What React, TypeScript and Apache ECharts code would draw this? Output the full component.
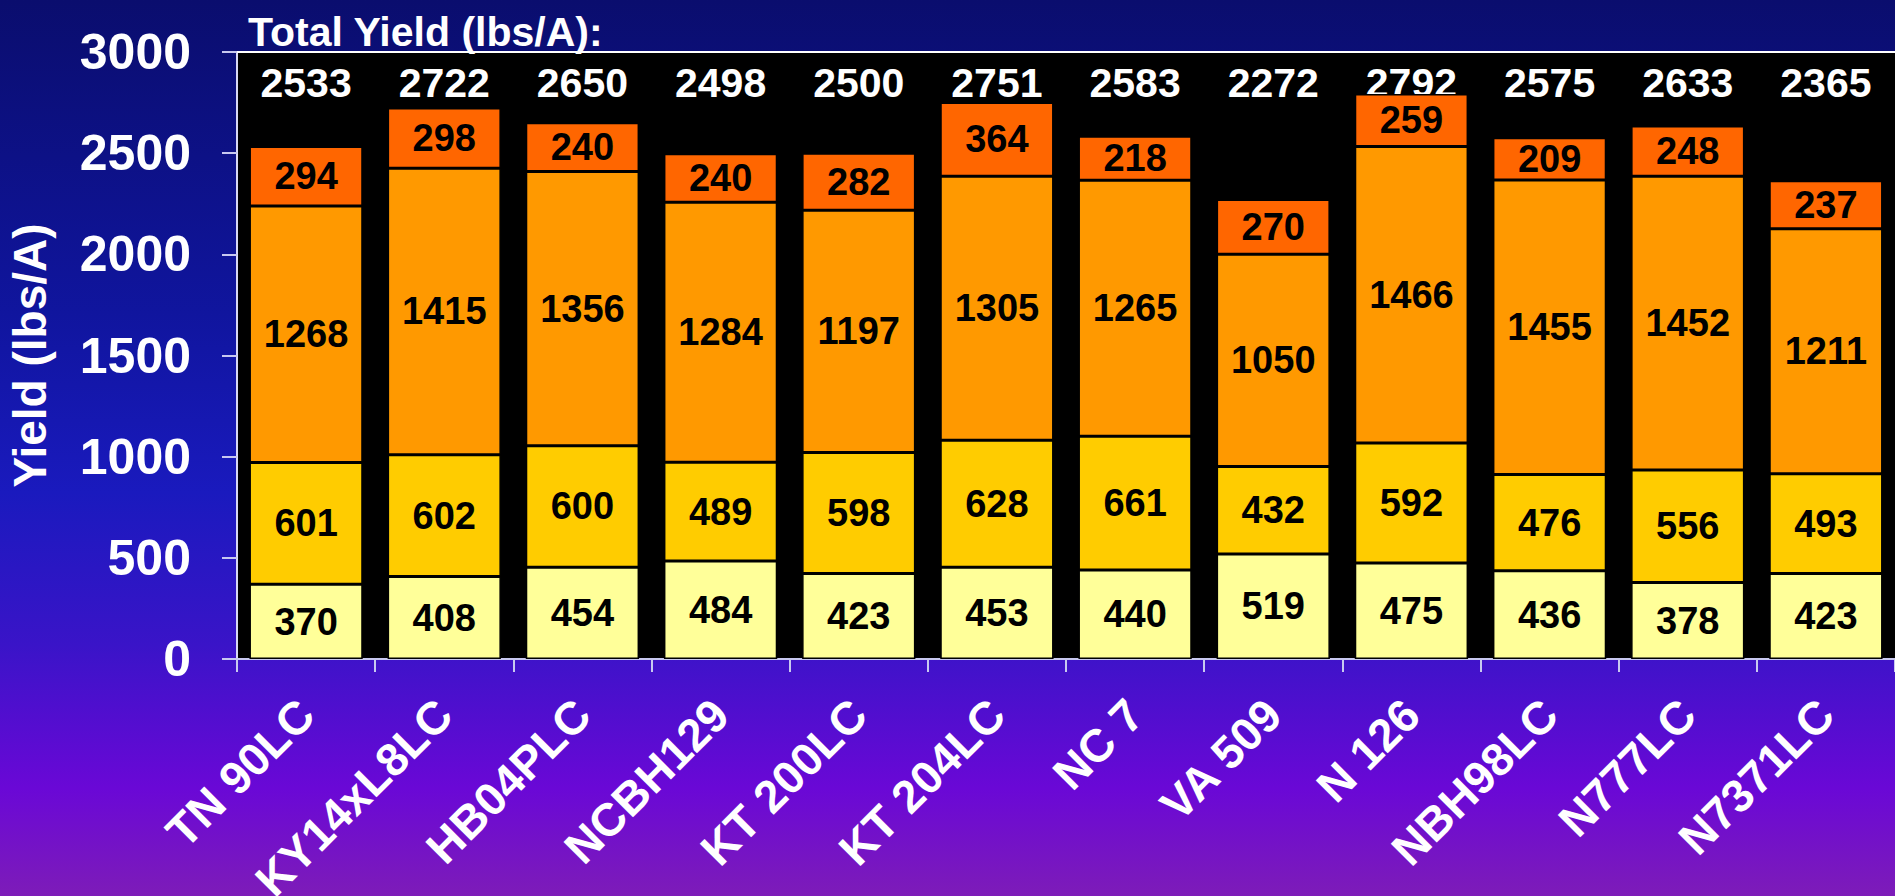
import React, { useEffect, useRef } from "react";
import * as echarts from "echarts";

const categories = ["TN 90LC", "KY14xL8LC", "HB04PLC", "NCBH129", "KT 200LC", "KT 204LC", "NC 7", "VA 509", "N 126", "NBH98LC", "N777LC", "N7371LC"];
const seg1 = [370, 408, 454, 484, 423, 453, 440, 519, 475, 436, 378, 423];
const seg2 = [601, 602, 600, 489, 598, 628, 661, 432, 592, 476, 556, 493];
const seg3 = [1268, 1415, 1356, 1284, 1197, 1305, 1265, 1050, 1466, 1455, 1452, 1211];
const seg4 = [294, 298, 240, 240, 282, 364, 218, 270, 259, 209, 248, 237];
const totals = [2533, 2722, 2650, 2498, 2500, 2751, 2583, 2272, 2792, 2575, 2633, 2365];
const segColors = ["#FFFF99", "#FFCC00", "#FF9900", "#FF6600"];

const FONT = "'Liberation Sans', Arial, sans-serif";

export default function App() {
  const ref = useRef<HTMLDivElement>(null);
  useEffect(() => {
    document.body.style.margin = "0";
    document.body.style.overflow = "hidden";
    const chart = echarts.init(ref.current!, null, { renderer: "svg" });
    const mk = (data: number[], i: number) => ({
      type: "bar",
      stack: "a",
      data,
      barCategoryGap: "18%",
      itemStyle: { color: segColors[i], borderColor: "#000", borderWidth: 1.5 },
      label: {
        show: true,
        position: "inside",
        color: "#000",
        fontSize: 38,
        fontWeight: "bold",
        fontFamily: FONT,
      },
    });
    chart.setOption({
      animation: false,
      backgroundColor: {
        type: "linear",
        x: 0, y: 0, x2: 0, y2: 1,
        colorStops: [
          { offset: 0, color: "#0a0d6e" },
          { offset: 0.35, color: "#10159e" },
          { offset: 0.55, color: "#1a1abe" },
          { offset: 0.72, color: "#3a14c8" },
          { offset: 0.88, color: "#6a08d6" },
          { offset: 1, color: "#7d1cb8" },
        ],
      },
      title: {
        text: "Total Yield (lbs/A):",
        left: 243,
        top: 6,
        textStyle: { color: "#fff", fontSize: 41, fontWeight: "bold", fontFamily: FONT },
      },
      grid: {
        left: 237,
        top: 52,
        right: 0,
        bottom: 237,
        show: true,
        backgroundColor: "#000",
        borderWidth: 0,
        containLabel: false,
        outerBoundsMode: "none",
      },
      xAxis: [
        {
          type: "category",
          data: categories,
          position: "bottom",
          axisLine: { lineStyle: { color: "#c8c8f0", width: 2 } },
          axisTick: { show: true, length: 13, lineStyle: { color: "#c8c8f0", width: 2 } },
          axisLabel: {
            rotate: 45,
            color: "#fff",
            fontSize: 46,
            fontWeight: "bold",
            fontFamily: FONT,
            margin: 48,
            interval: 0,
          },
        },
        {
          type: "category",
          data: totals.map(String),
          position: "top",
          axisLine: { show: true, lineStyle: { color: "#ffffff", width: 2 } },
          axisTick: { show: false },
          axisLabel: {
            inside: true,
            color: "#fff",
            fontSize: 41,
            fontWeight: "bold",
            fontFamily: FONT,
            margin: 10,
            interval: 0,
          },
        },
      ],
      yAxis: {
        type: "value",
        min: 0,
        max: 3000,
        interval: 500,
        name: "Yield (lbs/A)",
        nameLocation: "middle",
        nameRotate: 90,
        nameGap: 184,
        nameTextStyle: { color: "#fff", fontSize: 46, fontWeight: "bold", fontFamily: FONT },
        axisLine: { show: true, lineStyle: { color: "#d8d8f4", width: 2 } },
        axisTick: { show: true, length: 15, lineStyle: { color: "#c8c8f0", width: 2 } },
        splitLine: { show: false },
        axisLabel: {
          color: "#fff",
          fontSize: 50,
          fontWeight: "bold",
          fontFamily: FONT,
          margin: 46,
          formatter: (v: number) => String(v),
        },
      },
      series: [mk(seg1, 0), mk(seg2, 1), mk(seg3, 2), mk(seg4, 3)],
    });
    return () => chart.dispose();
  }, []);
  return <div ref={ref} style={{ width: 1895, height: 896 }} />;
}
